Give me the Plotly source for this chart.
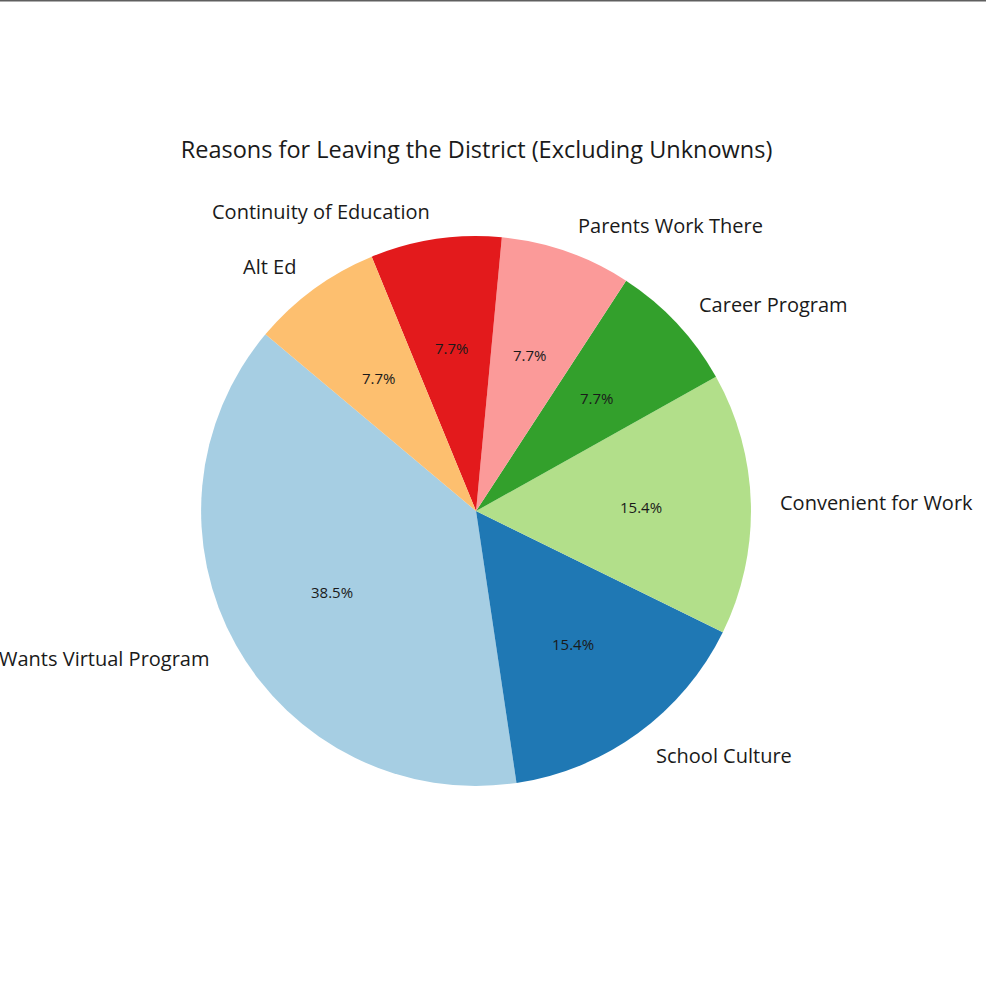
import math
import plotly.graph_objects as go

labels = ["Wants Virtual Program", "School Culture", "Convenient for Work", "Career Program",
          "Parents Work There", "Continuity of Education", "Alt Ed"]
counts = [5, 2, 2, 1, 1, 1, 1]
colors = ["#a6cee3", "#1f78b4", "#b2df8a", "#33a02c", "#fb9a99", "#e31a1c", "#fdbf6f"]
title = "Reasons for Leaving the District (Excluding Unknowns)"

FONT = "Open Sans"
W, H = 986, 992
domain = dict(x=[0.2039, 0.7617], y=[0.2077, 0.762])
START = 140.0            # start angle (deg, counterclockwise from 3 o'clock)
ROT = 90 - START - 360 * counts[0] / sum(counts)  # plotly rotation for that start

fig = go.Figure()
fig.add_trace(go.Pie(
    labels=labels, values=counts, sort=False, direction="counterclockwise", rotation=ROT,
    marker=dict(colors=colors, line=dict(width=0)),
    textinfo="none", domain=domain, showlegend=False, hoverinfo="label+percent",
))

# label / percentage placement, derived from the data (labels at 1.1 r, pct at 0.6 r)
cx = (domain["x"][0] + domain["x"][1]) / 2
cy = (domain["y"][0] + domain["y"][1]) / 2
r_px = min((domain["x"][1] - domain["x"][0]) * W, (domain["y"][1] - domain["y"][0]) * H) / 2
total = sum(counts)
annotations = []
cum = 0
for lab, v in zip(labels, counts):
    mid = math.radians(START + 360 * (cum + v / 2) / total)
    cum += v
    c, s = math.cos(mid), math.sin(mid)
    annotations.append(dict(
        x=cx + 1.1 * r_px * c / W, y=cy + 1.1 * r_px * s / H, xref="paper", yref="paper",
        text=lab, showarrow=False, xanchor="left" if c > 0 else "right", yanchor="middle",
        font=dict(family=FONT, size=20, color="#1a1a1a")))
    annotations.append(dict(
        x=cx + 0.6 * r_px * c / W, y=cy + 0.6 * r_px * s / H, xref="paper", yref="paper",
        text=f"{100 * v / total:.1f}%", showarrow=False, xanchor="center", yanchor="middle",
        font=dict(family=FONT, size=15, color="#1a1a1a")))

fig.update_layout(
    width=W, height=H, margin=dict(l=0, r=0, t=0, b=0),
    paper_bgcolor="white", plot_bgcolor="white",
    title=dict(text=title, x=0.4833, xanchor="center", y=0.849, yanchor="middle",
               font=dict(family=FONT, size=23.5, color="#1a1a1a")),
    annotations=annotations,
    shapes=[dict(type="line", xref="paper", yref="paper", x0=0, x1=1, y0=0.9995, y1=0.9995,
                 line=dict(color="#5f5f5f", width=2))],
)
fig.write_html("out.html")
